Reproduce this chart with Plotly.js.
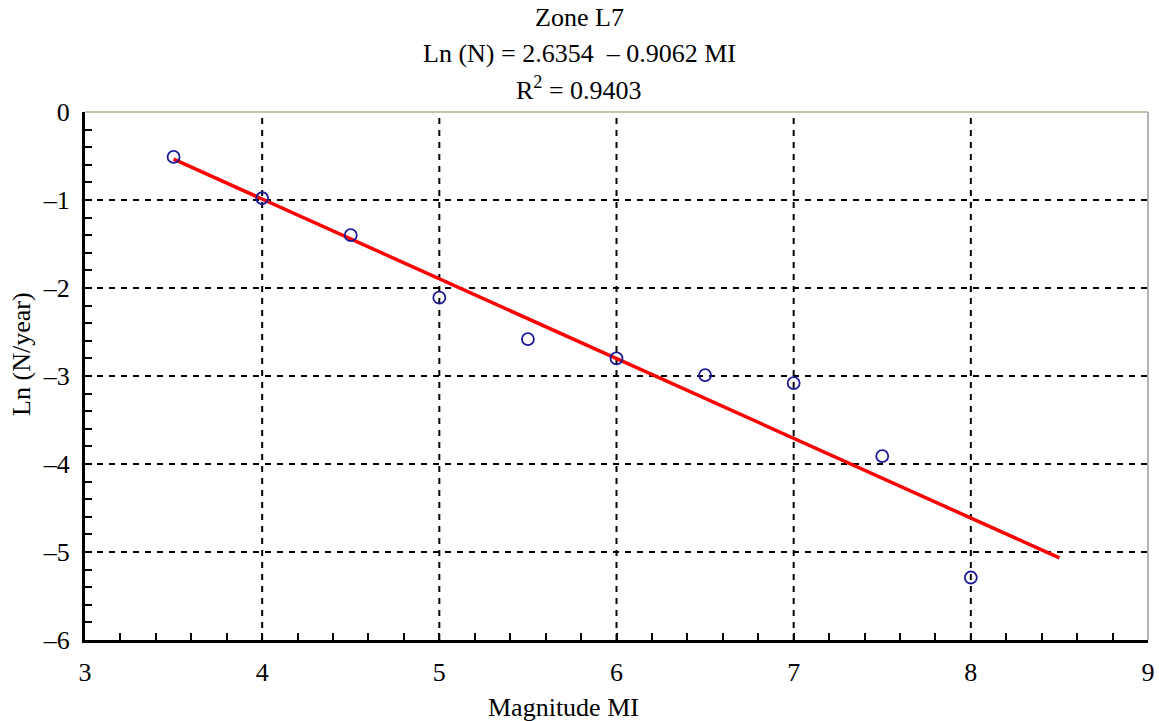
<!DOCTYPE html>
<html>
<head>
<meta charset="utf-8">
<script src="https://cdn.plot.ly/plotly-3.0.1.min.js"></script>
<style>html,body{margin:0;padding:0;background:#fff;}#chart{width:1159px;height:721px;}</style>
</head>
<body>
<div id="chart"></div>
<script>
const magnitudes = [3.5, 4.0, 4.5, 5.0, 5.5, 6.0, 6.5, 7.0, 7.5, 8.0];
const lnRates = [-0.51, -0.98, -1.40, -2.11, -2.58, -2.80, -2.99, -3.08, -3.91, -5.29];
const fitIntercept = 2.6354;
const fitSlope = -0.9062;
const fitX = [3.5, 8.5];
const fitY = fitX.map(x => fitIntercept + fitSlope * x);
const xTicks = [3, 4, 5, 6, 7, 8, 9];
const yTicks = [0, -1, -2, -3, -4, -5, -6];
const titleLines = ["Zone L7", "Ln (N) = 2.6354\u00a0\u00a0\u2013 0.9062 MI", "R<sup>2</sup> = 0.9403"];
const xTitle = "Magnitude MI";
const yTitle = "Ln (N/year)";

const font = "Liberation Serif, Times New Roman, serif";

const traces = [
  {x: fitX, y: fitY, mode: 'lines', line: {color: '#ff0000', width: 3.5}, hoverinfo: 'skip'},
  {x: magnitudes, y: lnRates, mode: 'markers',
   marker: {symbol: 'circle-open', size: 12, color: '#1a1a9a', line: {width: 1.8, color: '#1a1a9a'}}}
];

const gridShapes = [];
xTicks.slice(1, -1).forEach(v => gridShapes.push({type: 'line', xref: 'x', yref: 'paper', x0: v, x1: v, y0: 0, y1: 1, line: {color: '#000', width: 2, dash: '6px,6px'}, layer: 'below'}));
yTicks.slice(1, -1).forEach(v => gridShapes.push({type: 'line', xref: 'paper', yref: 'y', x0: 0, x1: 1, y0: v, y1: v, line: {color: '#000', width: 2, dash: '6px,6px'}, layer: 'below'}));
gridShapes.push({type: 'line', xref: 'paper', yref: 'paper', x0: 0, x1: 1, y0: 1, y1: 1, line: {color: '#b5b08a', width: 1.5}});
gridShapes.push({type: 'line', xref: 'paper', yref: 'paper', x0: 1, x1: 1, y0: 0, y1: 1, line: {color: '#9a9a9a', width: 1.5}});

const titleX = 0.465;
const layout = {
  width: 1159, height: 721,
  margin: {l: 85, r: 11, t: 112, b: 81},
  paper_bgcolor: '#fff', plot_bgcolor: '#fff',
  showlegend: false,
  font: {family: font, size: 26, color: '#000'},
  title: {text: titleLines[0], x: 0.5, xref: 'container', y: 1 - 17 / 721, yref: 'container', xanchor: 'center', yanchor: 'middle', font: {size: 26}},
  annotations: [
    {text: titleLines[1], xref: 'paper', yref: 'paper', x: titleX, y: 1, yanchor: 'middle', showarrow: false, font: {size: 26}, yshift: 59},
    {text: titleLines[2], xref: 'paper', yref: 'paper', x: titleX, y: 1, yanchor: 'middle', showarrow: false, font: {size: 26}, yshift: 24},
    {text: xTitle, xref: 'paper', yref: 'paper', x: 0.45, y: 0, yanchor: 'middle', showarrow: false, font: {size: 26}, yshift: -67},
    {text: yTitle, xref: 'paper', yref: 'paper', x: 0, y: 0.54, xanchor: 'center', yanchor: 'middle', textangle: -90, showarrow: false, font: {size: 26}, xshift: -63}
  ],
  xaxis: {
    range: [3, 9], tickvals: xTicks, ticktext: xTicks.map(String),
    showgrid: false, zeroline: false,
    showline: true, linecolor: '#000', linewidth: 3,
    ticks: 'inside', ticklen: 7, tickwidth: 2, tickcolor: '#000',
    minor: {ticks: 'inside', dtick: 0.2, ticklen: 7, tickwidth: 2, tickcolor: '#000', showgrid: false},
    ticklabelstandoff: 7,
    tickfont: {size: 26}
  },
  yaxis: {
    range: [-6, 0], tickvals: yTicks, ticktext: yTicks.map(v => v === 0 ? '0' : '\u2013' + Math.abs(v)),
    showgrid: false, zeroline: false,
    showline: true, linecolor: '#000', linewidth: 3,
    ticks: 'inside', ticklen: 7, tickwidth: 2, tickcolor: '#000',
    minor: {ticks: 'inside', dtick: 0.2, ticklen: 7, tickwidth: 2, tickcolor: '#000', showgrid: false},
    ticklabelstandoff: 7,
    tickfont: {size: 26}
  },
  shapes: gridShapes
};

Plotly.newPlot('chart', traces, layout, {displayModeBar: false, staticPlot: true});
</script>
</body>
</html>
